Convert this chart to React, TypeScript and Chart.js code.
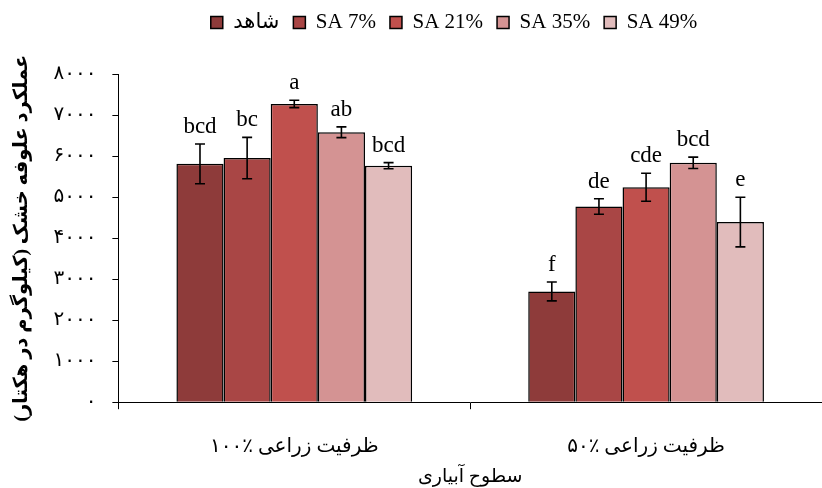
import React, { useEffect, useRef } from "react";
import { Chart, registerables } from "chart.js";

Chart.register(...registerables);

const categories = ["۱۰۰٪ ظرفیت زراعی", "۵۰٪ ظرفیت زراعی"];
const seriesNames = ["شاهد", "SA 7%", "SA 21%", "SA 35%", "SA 49%"];
const seriesColors = ["#8E3B3A", "#A94645", "#C0504D", "#D49393", "#E1BCBC"];

const controlValues = [5810, 2700];
const sa7Values = [5950, 4770];
const sa21Values = [7270, 5240];
const sa35Values = [6580, 5835];
const sa49Values = [5765, 4390];

const controlErrors = [485, 230];
const sa7Errors = [505, 190];
const sa21Errors = [90, 340];
const sa35Errors = [130, 140];
const sa49Errors = [75, 605];

const controlLetters = ["bcd", "f"];
const sa7Letters = ["bc", "de"];
const sa21Letters = ["a", "cde"];
const sa35Letters = ["ab", "bcd"];
const sa49Letters = ["bcd", "e"];

const yTickLabels = ["۰", "۱۰۰۰", "۲۰۰۰", "۳۰۰۰", "۴۰۰۰", "۵۰۰۰", "۶۰۰۰", "۷۰۰۰", "۸۰۰۰"];

const yTitle = "عملکرد علوفه خشک (کیلوگرم در هکتار)";
const xTitle = "سطوح آبیاری";

const allValues = [controlValues, sa7Values, sa21Values, sa35Values, sa49Values];
const allErrors = [controlErrors, sa7Errors, sa21Errors, sa35Errors, sa49Errors];
const allLetters = [controlLetters, sa7Letters, sa21Letters, sa35Letters, sa49Letters];

const FONT = "'Liberation Serif', 'DejaVu Sans', serif";

const legendShiftPlugin = {
  id: "legendShift",
  afterLayout(chart: any) {
    const lg = chart.legend;
    if (!lg) return;
    lg.left += 38;
    lg.right += 38;
    lg.top -= 31;
    lg.bottom -= 31;
  },
};

const errorBarPlugin = {
  id: "errorBars",
  afterDatasetsDraw(chart: any) {
    const ctx = chart.ctx;
    const yScale = chart.scales.y;
    ctx.save();
    chart.data.datasets.forEach((ds: any, di: number) => {
      const meta = chart.getDatasetMeta(di);
      meta.data.forEach((bar: any, i: number) => {
        const v = allValues[di][i];
        const e = allErrors[di][i];
        const x = bar.x;
        const yTop = yScale.getPixelForValue(v + e);
        const yBot = yScale.getPixelForValue(v - e);
        ctx.strokeStyle = "#000";
        ctx.lineWidth = 1.6;
        ctx.beginPath();
        ctx.moveTo(x, yTop);
        ctx.lineTo(x, yBot);
        ctx.moveTo(x - 5, yTop);
        ctx.lineTo(x + 5, yTop);
        ctx.moveTo(x - 5, yBot);
        ctx.lineTo(x + 5, yBot);
        ctx.stroke();
        ctx.fillStyle = "#000";
        ctx.font = `23px ${FONT}`;
        ctx.textAlign = "center";
        ctx.textBaseline = "alphabetic";
        ctx.fillText(allLetters[di][i], x, yTop - 11);
      });
    });
    ctx.restore();
  },
};

export default function App() {
  const ref = useRef<HTMLCanvasElement>(null);
  useEffect(() => {
    if (!ref.current) return;
    const chart = new Chart(ref.current, {
      type: "bar",
      data: {
        labels: categories,
        datasets: seriesNames.map((name, i) => ({
          label: name,
          data: allValues[i],
          backgroundColor: seriesColors[i],
          borderColor: "#000",
          borderWidth: 1.5,
          barPercentage: 1,
          categoryPercentage: 0.67,
        })),
      },
      options: {
        animation: false,
        responsive: false,
        devicePixelRatio: 1,
        layout: { padding: { left: 10, right: 0, top: 29, bottom: 0 } },
        plugins: {
          tooltip: { enabled: false },
          legend: {
            position: "top",
            labels: {
              color: "#000",
              font: { family: FONT, size: 21 },
              boxWidth: 12,
              boxHeight: 12,
              padding: 14,
            },
          },
        },
        scales: {
          x: {
            border: { color: "#000", width: 1 },
            grid: { drawOnChartArea: false, color: "#000", tickLength: 7 },
            ticks: { color: "#000", font: { family: FONT, size: 20 }, padding: 26 },
            title: {
              display: true,
              text: xTitle,
              color: "#000",
              font: { family: FONT, size: 19 },
              padding: { top: -20, bottom: 0 },
            },
          },
          y: {
            min: 0,
            max: 8000,
            border: { color: "#000", width: 1 },
            grid: { drawOnChartArea: false, color: "#000", tickLength: 6 },
            ticks: {
              stepSize: 1000,
              color: "#000",
              padding: 16,
              font: { family: FONT, size: 20 },
              callback: (_v: any, idx: number) => yTickLabels[idx],
            },
            title: {
              display: true,
              text: yTitle,
              color: "#000",
              font: { family: FONT, size: 19.5, weight: "bold" },
              padding: { top: 0, bottom: 4 },
            },
          },
        },
      },
      plugins: [legendShiftPlugin, errorBarPlugin],
    });
    return () => chart.destroy();
  }, []);
  return (
    <div style={{ position: "fixed", left: 0, top: 0, width: 822, height: 488, background: "#fff" }}>
      <canvas ref={ref} width={822} height={488} />
    </div>
  );
}
